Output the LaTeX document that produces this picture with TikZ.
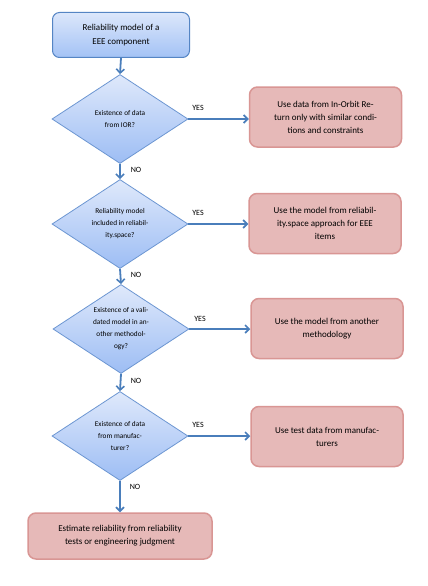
\documentclass[tikz,border=0pt]{standalone}
\usepackage{fontspec}
\setmainfont{Carlito}
\usetikzlibrary{shapes.geometric,arrows.meta}
\definecolor{arrowblue}{HTML}{4A7EBB}
\definecolor{dtop}{HTML}{DFE9FB}
\definecolor{dbot}{HTML}{9DBDF4}
\definecolor{dline}{HTML}{6C96D2}
\definecolor{btop}{HTML}{DCE7FB}
\definecolor{bbot}{HTML}{A3C2F5}
\definecolor{bline}{HTML}{5585C4}
\definecolor{pinkfill}{HTML}{E6B9B8}
\definecolor{pinkline}{HTML}{D99694}
\tikzset{
  x=1pt,y=-1pt,
  startbox/.style={draw=bline,line width=1pt,rounded corners=7pt,top color=btop,bottom color=bbot,
    minimum width=137pt,minimum height=45pt,align=center,font=\fontsize{9}{13.3}\selectfont,inner sep=2pt},
  decbox/.style={diamond,draw=dline,line width=0.8pt,top color=dtop,bottom color=dbot,
    minimum width=136pt,minimum height=89pt,inner sep=0pt,aspect=1.5,align=center,
    font=\fontsize{7.3}{12}\selectfont},
  actbox/.style={draw=pinkline,line width=1.5pt,fill=pinkfill,rounded corners=8pt,
    minimum width=152pt,minimum height=60pt,align=center,font=\fontsize{9}{13}\selectfont,inner sep=2pt},
  flow/.style={draw=arrowblue,line width=1.8pt,-{Straight Barb[length=4pt,width=8pt,line width=1.6pt]}},
  lbl/.style={font=\fontsize{8}{10}\selectfont,inner sep=0pt}
}
\begin{document}
\begin{tikzpicture}
\useasboundingbox[fill=white] (0,0) rectangle (428,586);
\node[startbox] (top) at (121,35) {Reliability model of a\\EEE component};
\node[decbox] (d1) at (120,119) {Existence of data\\from IOR?};
\node[actbox] (b1) at (325.5,117) {Use data from In-Orbit Re-\\turn only with similar condi-\\tions and constraints};
\node[decbox] (d2) at (120,224) {Reliability model\\included in reliabil-\\ity.space?};
\node[actbox] (b2) at (325,223.5) {Use the model from reliabil-\\ity.space approach for EEE\\items};
\node[decbox] (d3) at (121,329) {Existence of a vali-\\dated model in an-\\other methodol-\\ogy?};
\node[actbox] (b3) at (327,328.5) {Use the model from another\\methodology};
\node[decbox] (d4) at (120,436) {Existence of data\\from manufac-\\turer?};
\node[actbox] (b4) at (327,436.5) {Use test data from manufac-\\turers};
\node[actbox,minimum width=184pt,minimum height=46pt] (fin) at (120,536) {Estimate reliability from reliability\\tests or engineering judgment};
\draw[flow] (top.south) -- (d1.north);
\draw[flow] (d1.south) -- (d2.north);
\draw[flow] (d2.south) -- (d3.north);
\draw[flow] (d3.south) -- (d4.north);
\draw[flow] (d4.south) -- (fin.north);
\draw[flow] (d1.east) -- (d1.east -| b1.west);
\draw[flow] (d2.east) -- (d2.east -| b2.west);
\draw[flow] (d3.east) -- (d3.east -| b3.west);
\draw[flow] (d4.east) -- (d4.east -| b4.west);
\node[lbl] (y1) at (198,108) {YES};
\node[lbl] (y2) at (198,213) {YES};
\node[lbl] (y3) at (200,319) {YES};
\node[lbl] (y4) at (198,425) {YES};
\node[lbl] (n1) at (136,170) {NO};
\node[lbl] (n2) at (136,275) {NO};
\node[lbl] (n3) at (136,381) {NO};
\node[lbl] (n4) at (135,487) {NO};
\end{tikzpicture}
\end{document}
